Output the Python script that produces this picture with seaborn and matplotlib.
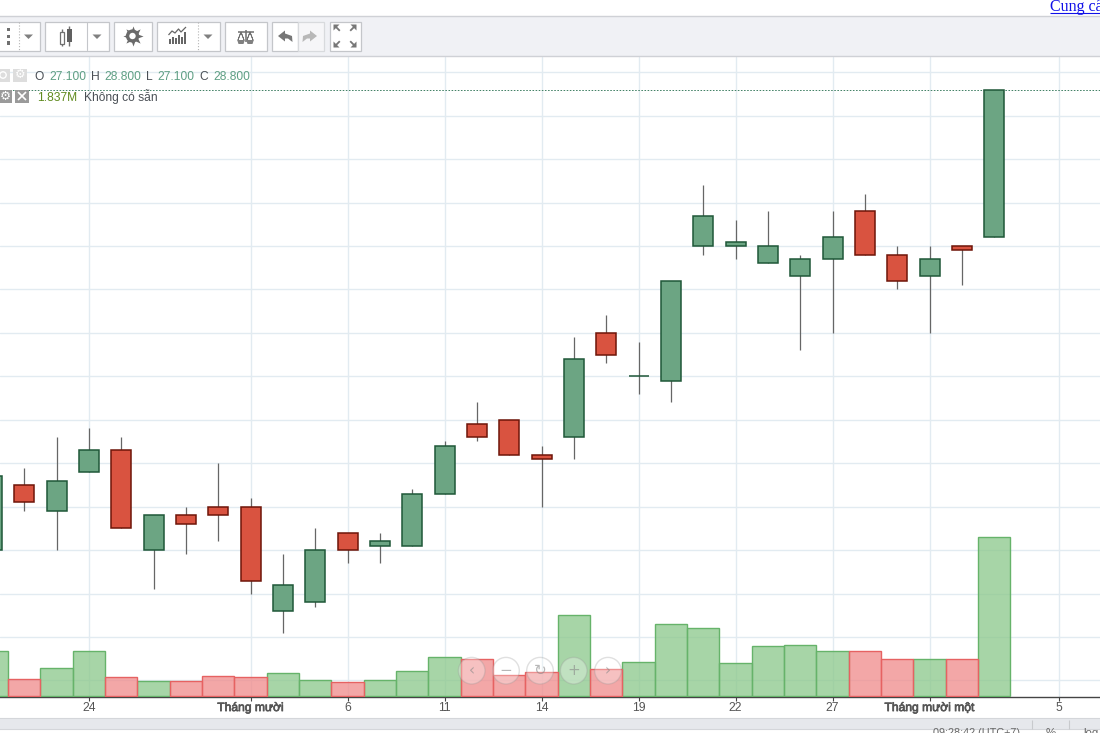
import numpy as np
import pandas as pd
import matplotlib
matplotlib.use("Agg")
import matplotlib.pyplot as plt
from matplotlib.patches import Rectangle, Circle, Polygon
from matplotlib.colors import to_rgba
import matplotlib.patheffects as pe
import seaborn as sns

# ---------- data ----------
opens = [23.5, 24.25, 23.95, 24.4, 24.65, 23.5, 23.9, 24.0, 24.0, 22.8, 22.9, 23.7, 23.55, 23.55, 24.15, 24.95,
         25.0, 24.6, 24.8, 26.0, 25.5, 25.45, 27.0, 27.0, 26.8, 26.65, 26.85, 27.4, 26.9, 26.65, 27.0, 27.1]
closes = [24.35, 24.05, 24.3, 24.65, 23.75, 23.9, 23.8, 23.9, 23.15, 23.1, 23.5, 23.5, 23.6, 24.15, 24.7, 24.8,
          24.6, 24.55, 25.7, 25.75, 25.5, 26.6, 27.35, 27.05, 27.0, 26.85, 27.1, 26.9, 26.6, 26.85, 26.95, 28.8]
highs = [24.35, 24.45, 24.8, 24.9, 24.8, 23.9, 24.0, 24.5, 24.1, 23.45, 23.75, 23.7, 23.7, 24.2, 24.75, 25.2,
         25.0, 24.7, 25.95, 26.2, 25.9, 26.6, 27.7, 27.3, 27.4, 26.9, 27.4, 27.6, 27.0, 27.0, 27.0, 28.8]
lows = [23.5, 23.95, 23.5, 24.4, 23.75, 23.05, 23.45, 23.6, 23.0, 22.55, 22.85, 23.35, 23.35, 23.55, 24.15, 24.75,
        24.6, 24.0, 24.55, 25.65, 25.3, 25.2, 26.9, 26.85, 26.8, 25.8, 26.0, 26.9, 26.5, 26.0, 26.55, 27.1]
volumes = [0.516, 0.193, 0.32, 0.516, 0.216, 0.17, 0.17, 0.228, 0.216, 0.262, 0.181, 0.158, 0.181, 0.285, 0.447, 0.424,
           0.239, 0.274, 0.932, 0.308, 0.389, 0.828, 0.782, 0.378, 0.574, 0.586, 0.516, 0.516, 0.424, 0.424, 0.424, 1.837]
tick_positions = [3, 8, 11, 14, 17, 20, 23, 26, 29, 33]
tick_labels = ["24", "Tháng mười", "6", "11", "14", "19", "22", "27", "Tháng mười một", "5"]
bold_labels = ["Tháng mười", "Tháng mười một"]
price_ticks = [22, 22.5, 23, 23.5, 24, 24.5, 25, 25.5, 26, 26.5, 27, 27.5, 28, 28.5, 29]

# ---------- colours ----------
UP, UP_EDGE = "#6ca583", "#1f5738"
DN, DN_EDGE = "#d95340", "#6e1509"
VOL_UP, VOL_UP_EDGE = "#8ac78a", "#66b36a"
VOL_DN, VOL_DN_EDGE = "#f08a8a", "#e66262"
GRID = "#e2ebf1"
TXT = "#4a4f55"
VAL = "#5f9f84"

sns.set_style("white")
plt.rcParams["font.family"] = ["Liberation Sans", "DejaVu Sans"]

W, H = 1100, 733
fig = plt.figure(figsize=(W / 100, H / 100), dpi=100, facecolor="white")
top, bottom = 57, 696.5
ax = fig.add_axes([0, 1 - bottom / H, 1, (bottom - top) / H])
ax.set_facecolor("white")
idx = np.arange(len(opens))
o, c, h, l = map(np.array, (opens, closes, highs, lows))
up = c >= o

# ---------- candles ----------
ax.vlines(idx, l, h, color="#666666", lw=0.9, zorder=3)
body_low = np.minimum(o, c)
body_h = np.abs(c - o)
ax.bar(idx, body_h, bottom=body_low, width=20 / 32.33,
       color=[UP if u else DN for u in up],
       edgecolor=[UP_EDGE if u else DN_EDGE for u in up], linewidth=1.1, zorder=4)
ax.axhline(closes[-1], color="#3f7f63", lw=0.7, ls=(0, (1.6, 1.6)), zorder=2)

ax.set_ylim(21.8155, 29.1745)
ax.set_yticks(price_ticks)
ax.grid(True, color=GRID, lw=1.0)
ax.set_axisbelow(True)

# ---------- volume ----------
vax = ax.twinx()
ax.tick_params(axis="y", left=False, right=False, labelleft=False)
vol_df = pd.DataFrame({"idx": idx, "vol": volumes, "dir": ["up" if u else "dn" for u in up]})
sns.barplot(data=vol_df, x="idx", y="vol", hue="dir", hue_order=["up", "dn"], native_scale=True,
            dodge=False, width=1.0, palette={"up": VOL_UP, "dn": VOL_DN}, legend=False,
            saturation=1, ax=vax)
for cont, fc, ec in zip(vax.containers, (VOL_UP, VOL_DN), (VOL_UP_EDGE, VOL_DN_EDGE)):
    for p in cont:
        p.set_facecolor(to_rgba(fc, 0.75))
        p.set_edgecolor(ec)
        p.set_linewidth(1.0)
vax.set_ylim(-0.006, 7.38)
vax.set_ylabel("")
vax.set_xlabel("")
vax.tick_params(axis="y", left=False, right=False, labelright=False)
for s in vax.spines.values():
    s.set_visible(False)

# ---------- x axis ----------
ax.set_xlim(0.25, 34.272)
ax.set_xticks(tick_positions)
ax.set_xticklabels(tick_labels)
ax.tick_params(axis="x", bottom=True, length=3, width=0.8, color="#444444", pad=1.0,
               labelsize=8.7, labelcolor="#555555")
for t in ax.get_xticklabels():
    if t.get_text() in bold_labels:
        t.set_path_effects([pe.withStroke(linewidth=0.5, foreground="#555555")])
ax.set_xlabel("")
ax.set_ylabel("")
for name, s in ax.spines.items():
    s.set_visible(name == "bottom")
ax.spines["bottom"].set_color("#444444")
ax.spines["bottom"].set_linewidth(1.0)

# ---------- page chrome, in pixel coordinates ----------
ui = fig.add_axes([0, 0, 1, 1], facecolor="none", zorder=10)
ui.set_xlim(0, W)
ui.set_ylim(H, 0)
ui.axis("off")


def rect(x0, y0, x1, y1, fc, ec="none", lw=1.0, z=1):
    r = Rectangle((x0, y0), x1 - x0, y1 - y0, facecolor=fc, edgecolor=ec, lw=lw, zorder=z)
    ui.add_patch(r)
    return r


def line(xs, ys, color="#777777", lw=1.0, z=3, **kw):
    ui.plot(xs, ys, color=color, lw=lw, zorder=z, solid_capstyle="butt", **kw)


def poly(pts, fc="#777777", z=3, alpha=1):
    ui.add_patch(Polygon(pts, closed=True, facecolor=fc, edgecolor="none", zorder=z, alpha=alpha))


# top link
ui.text(1050, 11, "Cung cấp", family="Liberation Serif", fontsize=11.5, color="#1010e8", va="baseline", ha="left")
line([1050, 1100], [12.6, 12.6], color="#1010e8", lw=0.8)

# toolbar
rect(-2, 15.5, W + 2, 56.2, "#f0f1f5", "#cfd1d6", 1.0, z=1)
BTN = "#c4c6ca"
for x0, x1, div in [(-5, 39.5, 18.5), (44.5, 108.5, 87), (113.5, 151.5, None), (156.5, 219.5, 198),
                    (224.5, 266.5, None), (271.5, 297.5, None), (329.5, 360.5, None)]:
    rect(x0, 21.5, x1, 50.5, "white", BTN, 0.9, z=2)
    if div is not None:
        ec = "#b5b5b5" if x0 in (-5, 156.5) else BTN
        ls = ":" if x0 in (-5, 156.5) else "-"
        ui.plot([div, div], [22, 50], color=ec, lw=0.8, ls=ls, zorder=3)
rect(297.5, 21.5, 323.5, 50.5, "#f6f6f8", "#d8dadd", 0.9, z=2)

G = "#707070"
# three dots + dropdown triangles
for yy in (29.5, 36.5, 43):
    rect(6.5, yy - 1.6, 9.8, yy + 1.6, G, z=3)
for cx in (28.5, 97, 208):
    poly([(cx - 4.5, 34.5), (cx + 4.5, 34.5), (cx, 39)], fc="#808080")
# candlestick icon
line([62, 62], [29, 46], color=G)
rect(60.2, 32, 64, 44, "white", G, 0.9, z=4)
line([69, 69], [26, 46], color=G)
rect(67, 29, 71.5, 42, "#606060", z=4)
# gear
ui.scatter([132.5], [36], marker=(8, 1, 0), s=210, color="#6a6a6a", linewidths=0, zorder=3)
ui.add_patch(Circle((132.5, 36), 6.6, facecolor="#6a6a6a", edgecolor="none", zorder=3))
ui.add_patch(Circle((132.5, 36), 3.2, facecolor="white", edgecolor="none", zorder=4))
# chart icon
for bx, bh in zip((169.5, 172.5, 175.5, 178.5, 181.5, 184.5), (5, 7, 6, 9, 7, 12)):
    rect(bx - 1, 44 - bh, bx + 1, 44, "#666666", z=3)
line([168.5, 172, 175, 178.5, 181, 186], [35, 31, 33, 29, 32, 27], color="#666666", lw=0.9)
# scales
line([237.5, 253.5], [31.5, 31.5], color=G, lw=1.1)
line([245.5, 245.5], [30, 42], color=G, lw=1.1)
line([241, 238, 241, 244, 241], [32, 40, 32, 40, 32], color=G, lw=0.6)
line([250, 247, 250, 253, 250], [32, 40, 32, 40, 32], color=G, lw=0.6)
for cx in (241, 250):
    ui.add_patch(Polygon([(cx - 3.8, 40), (cx + 3.8, 40), (cx + 2.5, 44), (cx - 2.5, 44)], facecolor="#808080", edgecolor="none", zorder=3))
# undo / redo
poly([(278, 36), (285, 30.5), (285, 33.5), (292, 36), (292.5, 42), (288, 38.5), (285, 38.5), (285, 41.5)], fc="#777777")
poly([(317, 36), (310, 30.5), (310, 33.5), (303, 36), (302.5, 42), (307, 38.5), (310, 38.5), (310, 41.5)], fc="#b8b8b8")
# full screen
for sx, sy in [(1, 1), (-1, 1), (1, -1), (-1, -1)]:
    cx, cy = 345 - sx * 9, 36 - sy * 9
    poly([(cx - sx * 2.5, cy - sy * 2.5), (cx + sx * 3.5, cy - sy * 2.5), (cx - sx * 2.5, cy + sy * 3.5)], fc="#777777")
    line([cx, cx + sx * 3.8], [cy, cy + sy * 3.8], color="#777777", lw=1.3)

# OHLC legend row
rect(-3, 68.5, 9.5, 81.5, "#dddddd", z=3)
rect(13, 68.5, 27, 81.5, "#dddddd", z=3)
ui.add_patch(Circle((3, 75), 3.2, facecolor="none", edgecolor="white", lw=1, zorder=4))
ui.text(20, 75, "\u2699", family="DejaVu Sans", fontsize=8.5, color="white", ha="center", va="center", zorder=4)
parts = [(34.5, "O", TXT), (49, "27.100", VAL), (91, "H", TXT), (104, "28.800", VAL), (146, "L", TXT),
         (157.5, "27.100", VAL), (199.5, "C", TXT), (213, "28.800", VAL)]
for x, s, col in parts:
    ui.text(x, 80, s, fontsize=8.65, color=col, ha="left", va="baseline", zorder=4)

# volume legend row
rect(-3, 89.5, 11.5, 102.5, "#9a9a9a", z=3)
rect(15, 89.5, 29, 102.5, "#9a9a9a", z=3)
ui.text(5, 96, "\u2699", family="DejaVu Sans", fontsize=9, color="white", ha="center", va="center", zorder=4)
line([18, 26], [92, 100], color="white", lw=1.2, z=4)
line([18, 26], [100, 92], color="white", lw=1.2, z=4)
ui.text(37.5, 101, "1.837M", fontsize=8.65, color="#5f8a1e", ha="left", va="baseline", zorder=4)
ui.text(83.5, 101, "Không có sẵn", fontsize=8.65, color=TXT, ha="left", va="baseline", zorder=4)

# navigation circles
glyphs = ["\u2039", "\u2212", "\u21bb", "+", "\u203a"]
for cx, g in zip((471.7, 506, 540, 573.7, 608), glyphs):
    ui.add_patch(Circle((cx, 670.7), 13.3, facecolor=to_rgba("white", 0.3), edgecolor=to_rgba("#999999", 0.3), lw=1, zorder=5))
    ui.text(cx, 670.7, g, fontsize=11, family=["DejaVu Sans"], color=to_rgba("#888888", 0.6), ha="center", va="center", zorder=6)

# bottom status band
band = rect(-2, 718, W + 2, 729.3, "#e6e8ec", "#d4d6da", 0.8, z=1)
for x in (1032, 1069):
    line([x, x], [720, 729], color="#c8cacd", lw=0.8)
for x, s, ha, fs in [(976.5, "09:28:42 (UTC+7)", "center", 7.8), (1050.5, "%", "center", 8.2), (1083, "log", "left", 8.2)]:
    t = ui.text(x, 732.5, s, fontsize=fs, color="#666666", ha=ha, va="center", zorder=2)
    t.set_clip_path(band)

fig.savefig("out.png", dpi=100, facecolor="white")
